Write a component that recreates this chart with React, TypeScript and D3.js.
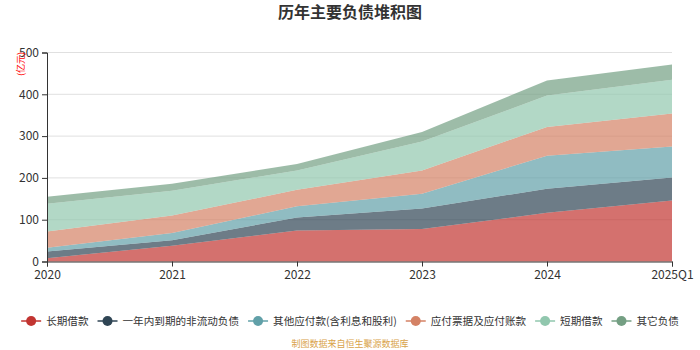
import React, { useRef, useEffect } from "react";
import * as d3 from "d3";

// 横轴类别
const categories = ["2020", "2021", "2022", "2023", "2024", "2025Q1"];

// 各负债项目（亿元）
const changqiJiekuan = [8, 37.6, 74, 77.5, 116.5, 146];
const yinianDaoqi = [16, 13.4, 31, 49.5, 57.5, 55];
const qitaYingfu = [9, 17, 27, 35, 79, 74];
const yingfuPiaoju = [39, 42, 39.5, 56, 69, 79];
const duanqiJiekuan = [66, 59, 46.5, 69, 75, 81];
const qitaFuzhai = [17, 17, 15, 23, 36, 36];

const seriesNames = [
  "长期借款",
  "一年内到期的非流动负债",
  "其他应付款(含利息和股利)",
  "应付票据及应付账款",
  "短期借款",
  "其它负债",
];
const seriesValues = [
  changqiJiekuan,
  yinianDaoqi,
  qitaYingfu,
  yingfuPiaoju,
  duanqiJiekuan,
  qitaFuzhai,
];
const colors = ["#c23531", "#2f4554", "#61a0a8", "#d48265", "#91c7ae", "#749f83"];

const yTicks = [0, 100, 200, 300, 400, 500];

const FONT = '"Noto Sans CJK SC", "Noto Sans", sans-serif';

const Chart = ({ width = 700, height = 350 }) => {
  const ref = useRef<SVGSVGElement>(null);

  useEffect(() => {
    const container = ref.current;
    if (!container) return;
    d3.select(container).selectChildren().remove();

    const margin = { top: 52.5, right: 28, bottom: 88.5, left: 47 };
    const chartW = width - margin.left - margin.right;
    const chartH = height - margin.top - margin.bottom;

    const svg = d3
      .select(container)
      .style("font-family", FONT)
      .append("g");

    // 标题
    svg
      .append("text")
      .attr("x", width / 2)
      .attr("y", 18)
      .attr("text-anchor", "middle")
      .style("font-size", "16px")
      .style("font-weight", "bold")
      .attr("fill", "#333")
      .text("历年主要负债堆积图");

    const g = svg
      .append("g")
      .attr("transform", `translate(${margin.left}, ${margin.top})`);

    const x = d3.scalePoint().domain(categories).range([0, chartW]);
    const y = d3.scaleLinear().domain([0, 500]).range([chartH, 0]);

    // 网格线
    g.append("g")
      .selectAll("line")
      .data(yTicks.filter((d) => d > 0))
      .enter()
      .append("line")
      .attr("x1", 0)
      .attr("x2", chartW)
      .attr("y1", (d) => y(d))
      .attr("y2", (d) => y(d))
      .attr("stroke", "#e0e0e0")
      .attr("stroke-width", 1);

    // 堆积数据
    const table = categories.map((c, i) => {
      const row: any = { cat: c };
      seriesNames.forEach((n, k) => (row[n] = seriesValues[k][i]));
      return row;
    });
    const stack = d3.stack().keys(seriesNames)(table);

    const area = d3
      .area<any>()
      .x((d) => x(d.data.cat) as number)
      .y0((d) => y(d[0]))
      .y1((d) => y(d[1]));

    g.append("g")
      .selectAll("path")
      .data(stack)
      .enter()
      .append("path")
      .attr("d", (d) => area(d as any))
      .attr("fill", (d, i) => colors[i])
      .attr("fill-opacity", 0.7);

    // Y 轴
    const yAxis = g
      .append("g")
      .call(d3.axisLeft(y).tickValues(yTicks).tickSize(5).tickPadding(3));
    yAxis.select(".domain").attr("stroke", "#333");
    yAxis.selectAll(".tick line").attr("stroke", "#333");
    yAxis
      .selectAll(".tick text")
      .attr("fill", "#333")
      .style("font-size", "12px")
      .style("font-family", FONT);

    // X 轴
    const xAxis = g
      .append("g")
      .attr("transform", `translate(0, ${chartH})`)
      .call(d3.axisBottom(x).tickSize(5).tickPadding(4));
    xAxis.select(".domain").attr("stroke", "#333");
    xAxis.selectAll(".tick line").attr("stroke", "#333");
    xAxis
      .selectAll(".tick text")
      .attr("fill", "#333")
      .style("font-size", "12px")
      .style("font-family", FONT);

    // 单位
    svg
      .append("text")
      .attr("transform", `translate(21, 64) rotate(-90)`)
      .attr("text-anchor", "middle")
      .attr("dy", "0.35em")
      .attr("fill", "#ff0000")
      .style("font-size", "9px")
      .text("(亿元)");

    // 图例
    const legend = svg.append("g");
    const legendY = 321;
    let cursor = 0;
    seriesNames.forEach((name, i) => {
      const item = legend.append("g").attr("transform", `translate(${cursor}, ${legendY})`);
      item
        .append("line")
        .attr("x1", 0)
        .attr("x2", 20)
        .attr("y1", 0)
        .attr("y2", 0)
        .attr("stroke", colors[i])
        .attr("stroke-width", 1.5);
      item
        .append("circle")
        .attr("cx", 10)
        .attr("cy", 0)
        .attr("r", 5)
        .attr("fill", colors[i]);
      const t = item
        .append("text")
        .attr("x", 25)
        .attr("dy", "0.35em")
        .attr("fill", "#333")
        .style("font-size", "10.6px")
        .text(name);
      const w = (t.node() as SVGTextElement).getComputedTextLength();
      cursor += 25 + w + 9;
    });
    const total = cursor - 9;
    legend.attr("transform", `translate(${(width - total) / 2}, 0)`);

    // 数据来源
    svg
      .append("text")
      .attr("x", width / 2)
      .attr("y", 347)
      .attr("text-anchor", "middle")
      .attr("fill", "#d9a34a")
      .style("font-size", "9px")
      .text("制图数据来自恒生聚源数据库");
  }, [width, height]);

  return (
    <svg
      ref={ref}
      width={width}
      height={height}
      style={{ position: "absolute", left: 0, top: 0, background: "#fff" }}
    />
  );
};

export default function App() {
  return <Chart />;
}
